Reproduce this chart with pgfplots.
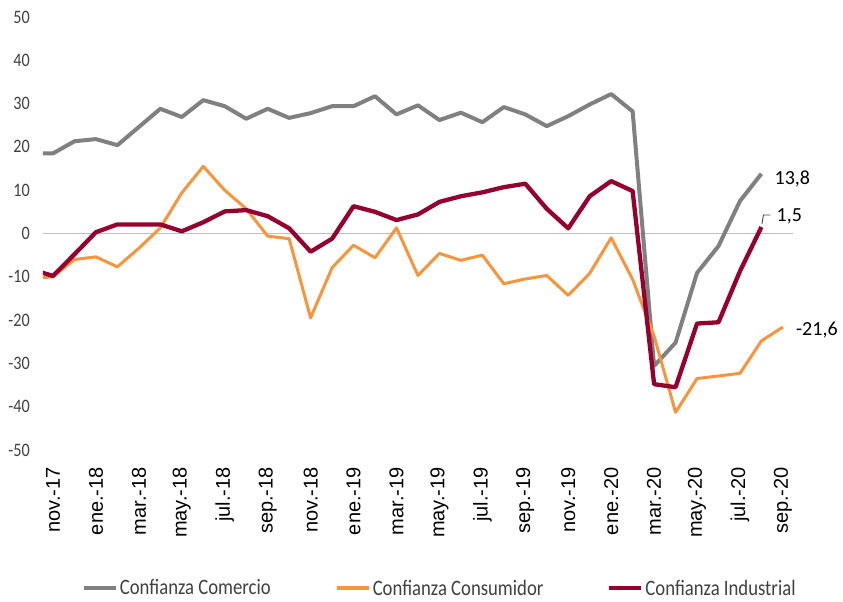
\documentclass[border=0pt]{standalone}
\usepackage{fontspec}
\setmainfont{Liberation Sans}
\newfontfamily\carlito{Carlito}
\usepackage{graphicx}
\usepackage{pgfplots}
\usepackage{pgfplotstable}
\pgfplotsset{compat=1.18}
\definecolor{cgray}{HTML}{808080}
\definecolor{corange}{HTML}{F7943C}
\definecolor{cred}{HTML}{96002E}
\definecolor{czero}{HTML}{BFBFBF}
\definecolor{ctext}{HTML}{404040}

\pgfplotstableread{
k com con ind
-1 18.5 -10.4 -8.3
0 18.5 -10.0 -9.8
1 21.3 -6.0 -4.8
2 21.8 -5.4 0.3
3 20.4 -7.7 2.1
4 24.6 -3.4 2.1
5 28.8 1.3 2.1
6 26.9 9.4 0.5
7 30.8 15.5 2.6
8 29.4 10.0 5.1
9 26.5 5.7 5.4
10 28.8 -0.6 4.0
11 26.7 -1.2 1.2
12 27.8 -19.5 -4.2
13 29.4 -7.9 -1.2
14 29.4 -2.7 6.3
15 31.7 -5.6 5.0
16 27.5 1.3 3.1
17 29.6 -9.7 4.4
18 26.2 -4.6 7.3
19 27.9 -6.2 8.6
20 25.7 -5.0 9.5
21 29.2 -11.6 10.7
22 27.5 -10.5 11.5
23 24.8 -9.7 5.7
24 27.1 -14.3 1.2
25 29.8 -9.2 8.6
26 32.2 -1.0 12.1
27 28.2 -10.6 9.8
28 -30.6 -23.7 -34.8
29 -25.2 -41.3 -35.5
30 -9.1 -33.5 -20.8
31 -2.9 -32.9 -20.5
32 7.5 -32.3 -8.7
33 13.8 -24.8 1.5
34 nan -21.6 nan
}\data

\begin{document}
\begin{tikzpicture}
\path[use as bounding box] (0,0) rectangle (843pt,602pt);
\begin{axis}[
  at={(43pt,152pt)}, anchor=south west,
  scale only axis, width=750pt, height=433pt,
  xmin=-0.466, xmax=34.47, ymin=-50, ymax=50,
  clip mode=individual,
  axis line style={draw=none},
  tick style={draw=none},
  major tick length=0pt,
  ytick={-50,-40,...,50},
  yticklabel={\scalebox{0.85}[1]{\pgfmathprintnumber[assume math mode=true]{\tick}}},
  yticklabel style={font=\carlito\fontsize{19}{21}\selectfont, text=ctext, anchor=east, inner sep=0pt, xshift=-13pt},
  xtick={0,2,...,34},
  xticklabels={nov.-17,ene.-18,mar.-18,may.-18,jul.-18,sep.-18,nov.-18,ene.-19,mar.-19,may.-19,jul.-19,sep.-19,nov.-19,ene.-20,mar.-20,may.-20,jul.-20,sep.-20},
  xticklabel style={font=\fontsize{20}{22}\selectfont, text=black, inner sep=0pt, anchor=east, yshift=-17pt, rotate=90},
  legend columns=3,
  legend style={at={(0.529,-0.319)}, anchor=center, draw=none, fill=none,
    font=\carlito\fontsize{22}{24}\selectfont, text=ctext,
    column sep=0pt, inner sep=0pt,
    /tikz/every even column/.append style={column sep=62pt}},
  legend cell align=left,
  legend image code/.code={\draw[#1, line width=4pt] (0pt,0pt) -- (32pt,0pt);},
  line join=round,
]
\addplot[czero, line width=1.8pt, forget plot] coordinates {(-0.466,0) (34.47,0)};
\addplot[cgray, line width=4pt] table[x=k, y=com] {\data};
\addlegendentry{\scalebox{0.85}[1]{Confianza Comercio}}
\addplot[corange, line width=3pt] table[x=k, y=con] {\data};
\addlegendentry{\scalebox{0.85}[1]{Confianza Consumidor}}
\addplot[cred, line width=4.3pt] table[x=k, y=ind] {\data};
\addlegendentry{\scalebox{0.85}[1]{Confianza Industrial}}
\node[anchor=west, inner sep=0pt, font=\carlito\fontsize{20}{22}\selectfont, xshift=13pt, yshift=-5pt] at (axis cs:33,13.8) {13,8};
\node[anchor=west, inner sep=0pt, font=\carlito\fontsize{20}{22}\selectfont, xshift=15pt, yshift=11pt] at (axis cs:33,1.5) {1,5};
\node[anchor=west, inner sep=0pt, font=\carlito\fontsize{20}{22}\selectfont, xshift=13pt, yshift=-3pt] at (axis cs:34,-21.6) {-21,6};
\draw[black!75, line width=0.9pt] (axis cs:33,1.5) ++(0.5pt,3pt) -- ++(1.5pt,9pt) -- ++(7pt,0pt);
\end{axis}
\end{tikzpicture}
\end{document}
